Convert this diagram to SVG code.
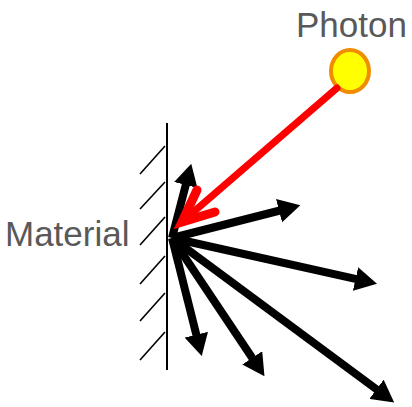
<svg xmlns="http://www.w3.org/2000/svg" width="412" height="407" viewBox="0 0 412 407">
<style>
.lbl{font-family:"Liberation Sans",Arial,sans-serif;font-size:35px;fill:#595959}
.hatch{stroke:#000;stroke-width:1.6;fill:none}
.ray{stroke:#000;stroke-width:8;fill:none;marker-end:url(#tri)}
</style>
<defs>
<marker id="tri" viewBox="0 0 22 24" markerWidth="22" markerHeight="24" refX="1" refY="12" orient="auto" markerUnits="userSpaceOnUse">
<path d="M0,0 L22,12 L0,24 z" fill="#000"/>
</marker>
</defs>
<rect width="412" height="407" fill="#fff"/>
<g id="material">
<line x1="167" y1="123" x2="167" y2="370" stroke="#000" stroke-width="2"/>
<line class="hatch" x1="140" y1="174" x2="165" y2="146"/>
<line class="hatch" x1="140" y1="209" x2="165" y2="182"/>
<line class="hatch" x1="140" y1="245" x2="165" y2="217"/>
<line class="hatch" x1="140" y1="284" x2="165" y2="256"/>
<line class="hatch" x1="140" y1="321" x2="165" y2="293"/>
<line class="hatch" x1="140" y1="360" x2="165" y2="332"/>
<text class="lbl" x="5" y="246">Material</text>
</g>
<g id="photon">
<ellipse cx="350" cy="71" rx="19" ry="21" fill="#ffff00" stroke="#f08c00" stroke-width="4"/>
<text class="lbl" x="296" y="37">Photon</text>
</g>
<g id="connectors">
<line class="ray" x1="172" y1="238" x2="186" y2="184"/>
<line class="ray" x1="172" y1="238" x2="280" y2="210.5"/>
<line class="ray" x1="172" y1="238" x2="356.5" y2="279.2"/>
<line class="ray" x1="172" y1="238" x2="377.3" y2="389.9"/>
<line class="ray" x1="172" y1="238" x2="252.8" y2="358.7"/>
<line class="ray" x1="172" y1="238" x2="196.6" y2="335.7"/>
<g id="incident" stroke="#ff0000" fill="none" stroke-linecap="round">
<line x1="337" y1="88" x2="183" y2="221" stroke-width="7"/>
<polyline points="197,190 182,222 215,212" stroke-width="9" stroke-linejoin="miter"/>
</g>
</g>
</svg>
